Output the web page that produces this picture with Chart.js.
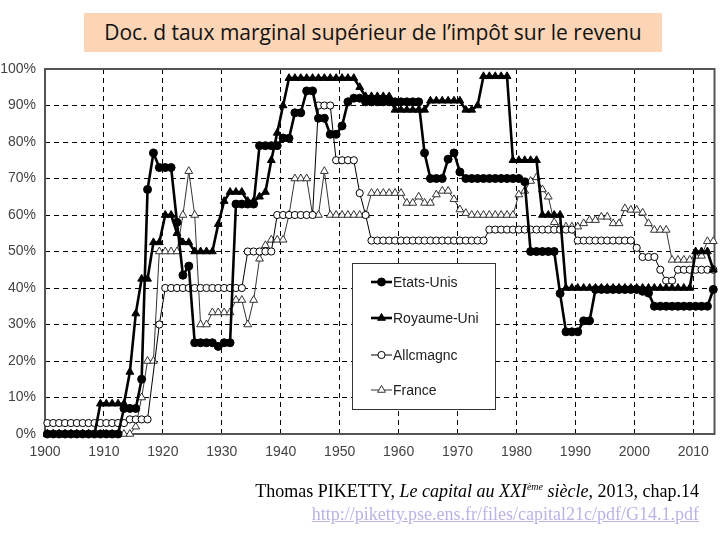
<!DOCTYPE html>
<html lang="fr">
<head>
<meta charset="utf-8">
<title>Taux marginal supérieur de l'impôt sur le revenu</title>
<script src="https://cdn.jsdelivr.net/npm/chart.js@4.4.0/dist/chart.umd.min.js"></script>
<style>
  html, body { margin: 0; padding: 0; background: #fff; }
  #wrap { position: relative; width: 720px; height: 540px; overflow: hidden; background: #fff; }
  #chart { position: absolute; left: 0; top: 0; }
  #title {
    position: absolute; left: 84px; top: 13px; width: 578px; height: 39px;
    background: #fbd5b5; color: #111; text-align: center;
    font-family: 'Open Sans', sans-serif; font-size: 21px; line-height: 39px;
  }
  #source {
    position: absolute; right: 21px; top: 475px; text-align: right;
    font-family: 'Liberation Serif', serif; font-size: 18px; color: #000; line-height: 23px;
  }
  #source i sup { font-size: 10px; }
  #source a { color: #b9b3e6; text-decoration: underline; }
</style>
</head>
<body>
<div id="wrap">
  <canvas id="chart" width="720" height="540"></canvas>
  <div id="title">Doc. d taux marginal supérieur de l’impôt sur le revenu</div>
  <div id="source">
    Thomas PIKETTY, <i>Le capital au XXI<sup>ème</sup> siècle,</i> 2013, chap.14<br>
    <a href="http://piketty.pse.ens.fr/files/capital21c/pdf/G14.1.pdf">http://piketty.pse.ens.fr/files/capital21c/pdf/G14.1.pdf</a>
  </div>
</div>
<script>
// years 1900..2013
const years = [];
for (let y = 1900; y <= 2013; y++) years.push(y);

const xTicks = [1900, 1910, 1920, 1930, 1940, 1950, 1960, 1970, 1980, 1990, 2000, 2010];
const yTicks = [0, 10, 20, 30, 40, 50, 60, 70, 80, 90, 100];

// top marginal rates (%), one value per year
const etatsUnis = [
  0, 0, 0, 0, 0, 0, 0, 0, 0, 0,
  0, 0, 0, 7, 7, 7, 15, 67, 77, 73,
  73, 73, 58, 43.5, 46, 25, 25, 25, 25, 24,
  25, 25, 63, 63, 63, 63, 79, 79, 79, 79,
  81.1, 81, 88, 88, 94, 94, 86.5, 86.5, 82.1, 82.1,
  84.4, 91, 92, 92, 91, 91, 91, 91, 91, 91,
  91, 91, 91, 91, 77, 70, 70, 70, 75.3, 77,
  71.8, 70, 70, 70, 70, 70, 70, 70, 70, 70,
  70, 69.1, 50, 50, 50, 50, 50, 38.5, 28, 28,
  28, 31, 31, 39.6, 39.6, 39.6, 39.6, 39.6, 39.6, 39.6,
  39.6, 39.1, 38.6, 35, 35, 35, 35, 35, 35, 35,
  35, 35, 35, 39.6
];
const royaumeUni = [
  0, 0, 0, 0, 0, 0, 0, 0, 0, 8.3,
  8.3, 8.3, 8.3, 8.3, 17, 33, 42.5, 42.5, 52.5, 52.5,
  60, 60, 55, 52.5, 52.5, 50, 50, 50, 50, 57.5,
  63.8, 66.3, 66.3, 66.3, 63.8, 63.8, 65, 66.3, 75, 82.5,
  90, 97.5, 97.5, 97.5, 97.5, 97.5, 97.5, 97.5, 97.5, 97.5,
  97.5, 97.5, 97.5, 95, 92.5, 92.5, 92.5, 92.5, 92.5, 88.8,
  88.8, 88.8, 88.8, 88.8, 88.8, 91.3, 91.3, 91.3, 91.3, 91.3,
  91.3, 88.8, 88.8, 90, 98, 98, 98, 98, 98, 75,
  75, 75, 75, 75, 60, 60, 60, 60, 40, 40,
  40, 40, 40, 40, 40, 40, 40, 40, 40, 40,
  40, 40, 40, 40, 40, 40, 40, 40, 40, 40,
  50, 50, 50, 45
];
const allemagne = [
  3, 3, 3, 3, 3, 3, 3, 3, 3, 3,
  3, 3, 3, 3, 4, 4, 4, 4, null, 30,
  40, 40, 40, 40, 40, 40, 40, 40, 40, 40,
  40, 40, 40, 40, 50, 50, 50, 50, 50, 60,
  60, 60, 60, 60, 60, 60, 90, 90, 90, 75,
  75, 75, 75, 66, 60, 53, 53, 53, 53, 53,
  53, 53, 53, 53, 53, 53, 53, 53, 53, 53,
  53, 53, 53, 53, 53, 56, 56, 56, 56, 56,
  56, 56, 56, 56, 56, 56, 56, 56, 56, 56,
  53, 53, 53, 53, 53, 53, 53, 53, 53, 53,
  51, 48.5, 48.5, 48.5, 45, 42, 42, 45, 45, 45,
  45, 45, 45, 45
];
const france = [
  0, 0, 0, 0, 0, 0, 0, 0, 0, 0,
  0, 0, 0, 0, 0, 2, 10, 20, 20, 50,
  50, 50, 50, 60, 72, 60, 30, 30, 33.3, 33.3,
  33.3, 33.3, 36.7, 36.7, 30, 36.7, 48, 51.7, 53.2, 53.2,
  53.2, 60, 70, 70, 70, 60, 60, 72, 60, 60,
  60, 60, 60, 60, 60, 66, 66, 66, 66, 66,
  66, 63.3, 63.3, 65, 63.3, 63.3, 65.6, 66.6, 66.6, 64.3,
  61.5, 60.5, 60, 60, 60, 60, 60, 60, 60, 60,
  65.6, 66.6, 69.3, 70.3, 67, 65, 58, 56.8, 56.8, 56.8,
  56.8, 57.7, 58.6, 58.6, 59.5, 59.5, 57.7, 57.7, 61.8, 61.4,
  61.4, 60.6, 57.7, 55.9, 55.9, 55.9, 47.7, 47.7, 47.7, 47.7,
  48.8, 48.8, 52.8, 52.8
];

const seriesNames = ['Etats-Unis', 'Royaume-Uni', 'Allcmagnc', 'France'];

// marks sit a little to the right of each year's grid line in the original
const MID_YEAR = 0.4;
function toPoints(values) {
  return years.map((y, i) => ({ x: y + MID_YEAR, y: values[i] }));
}

function makeSet(label, values, opts) {
  return Object.assign({
    label: label,
    data: toPoints(values),
    borderColor: '#000',
    pointBorderColor: '#000',
    pointBorderWidth: 1,
    pointHoverRadius: 4,
    spanGaps: true,
    tension: 0,
    clip: 6
  }, opts);
}

const datasets = [
  makeSet(seriesNames[0], etatsUnis, { borderWidth: 2.6, pointStyle: 'circle', pointRadius: 4, pointBackgroundColor: '#000' }),
  makeSet(seriesNames[1], royaumeUni, { borderWidth: 2.6, pointStyle: 'triangle', pointRadius: 4.5, pointBackgroundColor: '#000' }),
  makeSet(seriesNames[2], allemagne, { borderWidth: 1, pointStyle: 'circle', pointRadius: 3.6, pointBackgroundColor: '#fff' }),
  makeSet(seriesNames[3], france, { borderWidth: 1, borderColor: '#333', pointBorderColor: '#333', pointStyle: 'triangle', pointRadius: 4.5, pointBackgroundColor: '#fff' })
];

// frame around the plot area
const frame = {
  id: 'frame',
  beforeDatasetsDraw(chart) {
    const a = chart.chartArea, ctx = chart.ctx;
    ctx.save();
    ctx.strokeStyle = '#555';
    ctx.lineWidth = 2;
    ctx.strokeRect(a.left, a.top, a.right - a.left, a.bottom - a.top);
    ctx.restore();
  }
};

// boxed legend inside the plot
const boxLegend = {
  id: 'boxLegend',
  afterDatasetsDraw(chart) {
    const ctx = chart.ctx;
    const rows = [282, 318, 355, 390];
    ctx.save();
    ctx.fillStyle = '#fff';
    ctx.fillRect(352, 263, 143, 146);
    ctx.strokeStyle = '#333';
    ctx.lineWidth = 1;
    ctx.strokeRect(352.5, 263.5, 143, 146);
    chart.data.datasets.forEach((ds, i) => {
      const y = rows[i];
      ctx.strokeStyle = ds.borderColor;
      ctx.lineWidth = ds.borderWidth;
      ctx.beginPath();
      ctx.moveTo(371, y);
      ctx.lineTo(392, y);
      ctx.stroke();
      ctx.fillStyle = ds.pointBackgroundColor;
      ctx.strokeStyle = ds.pointBorderColor;
      ctx.lineWidth = ds.pointBorderWidth;
      Chart.helpers.drawPoint(ctx, { pointStyle: ds.pointStyle, radius: ds.pointRadius, rotation: 0, borderWidth: ds.pointBorderWidth }, 381.5, y);
      ctx.fillStyle = '#222';
      ctx.font = '14px "Liberation Sans", Arial, sans-serif';
      ctx.textBaseline = 'middle';
      ctx.fillText(ds.label, 393, y + 1);
    });
    ctx.restore();
  }
};

const tickFont = { family: '"Liberation Sans", Arial, sans-serif', size: 14 };

new Chart(document.getElementById('chart').getContext('2d'), {
  type: 'line',
  data: { datasets: datasets },
  options: {
    responsive: false,
    animation: false,
    devicePixelRatio: 1,
    layout: { padding: { top: 69, right: 5, bottom: 76, left: 0 } },
    plugins: { legend: { display: false }, tooltip: { enabled: false } },
    scales: {
      x: {
        type: 'linear',
        min: xTicks[0],
        max: 2013.6,
        afterFit: s => { s.height = 30; },
        afterBuildTicks: s => { s.ticks = xTicks.map(v => ({ value: v })); },
        ticks: { padding: 10, color: '#444', font: tickFont, callback: v => String(v) },
        grid: { color: '#000', lineWidth: 1, drawTicks: false },
        border: { display: false, dash: [5, 4] }
      },
      y: {
        min: yTicks[0],
        max: yTicks[yTicks.length - 1],
        afterFit: s => { s.width = 45; },
        afterBuildTicks: s => { s.ticks = yTicks.map(v => ({ value: v })); },
        ticks: { padding: 9, color: '#444', font: tickFont, callback: v => v + '%' },
        grid: { color: '#000', lineWidth: 1, drawTicks: false },
        border: { display: false, dash: [5, 4] }
      }
    }
  },
  plugins: [frame, boxLegend]
});
</script>
</body>
</html>
